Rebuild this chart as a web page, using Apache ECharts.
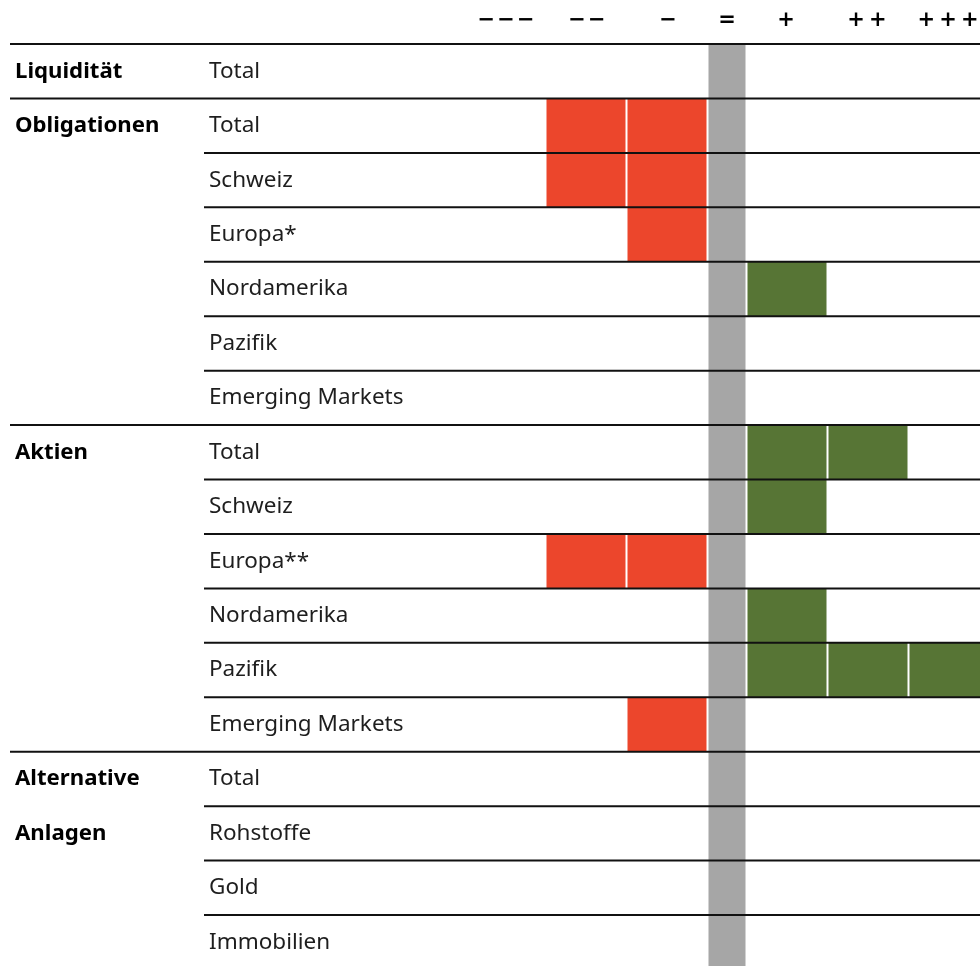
<!DOCTYPE html>
<html>
<head>
<meta charset="utf-8">
<script src="https://cdn.jsdelivr.net/npm/echarts@6/dist/echarts.min.js"></script>
<style>
  html, body { margin: 0; padding: 0; background: #fff; }
  #chart { width: 980px; height: 966px; }
</style>
</head>
<body>
<div id="chart"></div>
<script>
// rows of the table, top to bottom
var rows = ['Total', 'Total', 'Schweiz', 'Europa*', 'Nordamerika', 'Pazifik', 'Emerging Markets',
  'Total', 'Schweiz', 'Europa**', 'Nordamerika', 'Pazifik', 'Emerging Markets',
  'Total', 'Rohstoffe', 'Gold', 'Immobilien'];
var groups = ['Liquidität', 'Obligationen', '', '', '', '', '',
  'Aktien', '', '', '', '', '',
  'Alternative', 'Anlagen', '', ''];
// rows where a new asset class starts (rule runs over the full width)
var groupStart = [1, 1, 0, 0, 0, 0, 0, 1, 0, 0, 0, 0, 0, 1, 0, 0, 0];
// positioning score: -3 .. +3
var scores = [0, -2, -2, -1, 1, 0, 0, 2, 1, -2, 1, 3, -1, 0, 0, 0, 0];
var headerScores = [-3, -2, -1, 0, 1, 2, 3];
var headerLabels = ['−\u200A−\u200A−', '−\u200A−', '−', '=', '+', '+\u2009+', '+\u2009+\u2009+'];

var RED = '#ec462c';
var GREEN = '#577535';
var GRAY = '#a6a6a6';
var GRAY_HALF = 0.2284; // half width of the neutral column, in cell units

function scoreCenter(s) {
  if (s === 0) return 0;
  return Math.sign(s) * (GRAY_HALF + Math.abs(s) - 0.5);
}

var chart = echarts.init(document.getElementById('chart'));

var cellData = scores.map(function (s, i) { return [s, i]; });
var lineData = groupStart.map(function (g, i) { return [g, i]; });

function renderCells(params, api) {
  var s = api.value(0);
  var i = api.value(1);
  var band = api.size([0, 1])[1];
  var cy = api.coord([0, i])[1];
  var children = [];
  var n = Math.abs(s);
  for (var k = 1; k <= n; k++) {
    var x0, x1;
    if (s > 0) {
      x0 = api.coord([GRAY_HALF + k - 1, i])[0] + 2;
      x1 = api.coord([GRAY_HALF + k, i])[0];
    } else {
      x0 = api.coord([-(GRAY_HALF + k), i])[0];
      x1 = api.coord([-(GRAY_HALF + k - 1), i])[0] - 2;
    }
    children.push({
      type: 'rect',
      shape: { x: x0, y: cy - band / 2, width: x1 - x0, height: band },
      style: { fill: s > 0 ? GREEN : RED }
    });
  }
  return { type: 'group', children: children };
}

function renderLines(params, api) {
  var g = api.value(0);
  var i = api.value(1);
  var band = api.size([0, 1])[1];
  var y = api.coord([0, i])[1] - band / 2;
  return {
    type: 'line',
    shape: { x1: g ? 10 : 204, y1: y, x2: 980, y2: y },
    style: { stroke: '#111', lineWidth: 2 }
  };
}

var option = {
  backgroundColor: '#fff',
  animation: false,
  grid: { left: 465.5, top: 44, width: 523, height: 925.5, outerBoundsMode: 'none', containLabel: false },
  xAxis: {
    type: 'value',
    position: 'top',
    min: -3 - GRAY_HALF,
    max: 3 + GRAY_HALF,
    axisLine: { show: false },
    axisTick: { show: false },
    splitLine: { show: false },
    axisLabel: {
      customValues: headerScores.map(scoreCenter),
      margin: 13,
      fontFamily: 'DejaVu Sans',
      fontWeight: 'bold',
      fontSize: 21,
      color: '#000',
      formatter: function (v) {
        for (var j = 0; j < headerScores.length; j++) {
          if (Math.abs(scoreCenter(headerScores[j]) - v) < 0.01) return headerLabels[j];
        }
        return '';
      }
    }
  },
  yAxis: [{
    type: 'category',
    inverse: true,
    data: rows,
    axisLine: { show: false },
    axisTick: { show: false },
    axisLabel: {
      interval: 0,
      align: 'left',
      margin: 465.5 - 209,
      fontFamily: 'Noto Sans',
      fontSize: 22.5,
      color: '#1e1e1e'
    }
  }, {
    type: 'category',
    inverse: true,
    position: 'left',
    data: rows,
    axisLine: { show: false },
    axisTick: { show: false },
    axisLabel: {
      interval: 0,
      align: 'left',
      margin: 465.5 - 15,
      fontFamily: 'Noto Sans',
      fontWeight: 'bold',
      fontSize: 22.2,
      color: '#000',
      formatter: function (v, idx) { return groups[idx]; }
    }
  }],
  series: [{
    type: 'custom',
    name: 'neutral',
    data: cellData,
    encode: { x: 0, y: 1 },
    renderItem: renderCells,
    z: 2,
    markArea: {
      silent: true,
      itemStyle: { color: GRAY },
      data: [[{ xAxis: -GRAY_HALF }, { xAxis: GRAY_HALF }]]
    }
  }, {
    type: 'custom',
    name: 'rules',
    data: lineData,
    encode: { x: 0, y: 1 },
    renderItem: renderLines,
    z: 5
  }]
};

chart.setOption(option);
</script>
</body>
</html>
